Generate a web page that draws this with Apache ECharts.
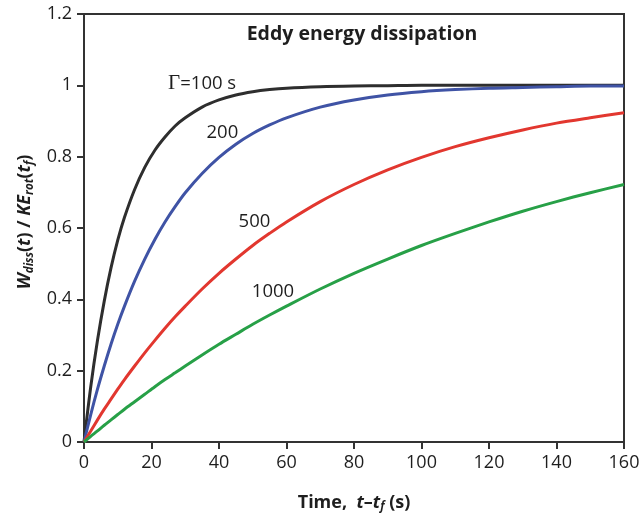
<!DOCTYPE html>
<html>
<head>
<meta charset="utf-8">
<script src="https://cdn.jsdelivr.net/npm/echarts@6/dist/echarts.min.js"></script>
<style>
  html, body { margin: 0; padding: 0; background: #fff; }
  #chart { width: 643px; height: 522px; }
</style>
</head>
<body>
<div id="chart"></div>
<script>
// time axis (s)
const TIME = [0, 2, 4, 6, 8, 10, 12, 15, 18, 21, 24, 27, 30, 35, 40, 45, 50, 55, 60,
  70, 80, 90, 100, 110, 120, 130, 140, 150, 160];

const G100 = [0, 0.155, 0.285, 0.395, 0.488, 0.566, 0.63, 0.708, 0.77, 0.818, 0.855, 0.886, 0.909,
  0.939, 0.959, 0.973, 0.982, 0.988, 0.992, 0.996, 0.998, 0.999, 1, 1, 1, 1, 1, 1, 1];
const G200 = [0, 0.077, 0.148, 0.213, 0.274, 0.33, 0.381, 0.451, 0.513, 0.568, 0.617, 0.66, 0.699,
  0.753, 0.798, 0.835, 0.865, 0.889, 0.909, 0.939, 0.959, 0.973, 0.982, 0.988, 0.992, 0.994, 0.996, 0.998, 0.998];
const G500 = [0, 0.031, 0.062, 0.092, 0.12, 0.148, 0.175, 0.213, 0.25, 0.285, 0.319, 0.351, 0.381,
  0.429, 0.473, 0.513, 0.551, 0.585, 0.617, 0.674, 0.722, 0.763, 0.798, 0.828, 0.853, 0.875, 0.894, 0.909, 0.923];
const G1000 = [0, 0.016, 0.031, 0.047, 0.062, 0.077, 0.092, 0.113, 0.134, 0.155, 0.175, 0.194, 0.213,
  0.244, 0.274, 0.302, 0.33, 0.356, 0.381, 0.429, 0.473, 0.513, 0.551, 0.585, 0.617, 0.647, 0.674, 0.699, 0.722];

const CURVES = [
  { name: "100", values: G100, color: "#2e2e2e" },
  { name: "200", values: G200, color: "#3f53a5" },
  { name: "500", values: G500, color: "#e2372f" },
  { name: "1000", values: G1000, color: "#27a047" },
];

// curve labels placed in data coordinates [t, value, text]
const LABELS = [
  [35, 1.004, "{g|Γ}=100 s"],
  [41, 0.868, "200"],
  [50.5, 0.617, "500"],
  [56, 0.42, "1000"],
];
const TITLE = "Eddy energy dissipation";

const FONT = "Open Sans";
const INK = "#1e1e1e";

const chart = echarts.init(document.getElementById("chart"));

const series = CURVES.map((c) => ({
  name: c.name,
  type: "line",
  data: TIME.map((t, i) => [t, c.values[i]]),
  smooth: 0.3,
  showSymbol: false,
  lineStyle: { color: c.color, width: 3 },
  z: 3,
}));

series.push({
  type: "scatter",
  data: LABELS,
  symbolSize: 0,
  itemStyle: { color: INK, opacity: 1 },
  silent: true,
  label: {
    show: true,
    position: [0, 0],
    align: "center",
    verticalAlign: "middle",
    formatter: (p) => p.data[2],
    fontFamily: FONT,
    fontSize: 18.5,
    color: INK,
    opacity: 1,
    textBorderWidth: 0,
    rich: {
      g: { fontFamily: "Liberation Serif", fontSize: 21, color: INK, textBorderWidth: 0 },
    },
  },
  z: 5,
});

const axisNameRich = {
  b: { fontFamily: FONT, fontWeight: "bold", fontSize: 18, color: INK },
  bi: { fontFamily: FONT, fontWeight: "bold", fontStyle: "italic", fontSize: 18, color: INK },
  sub: { fontFamily: FONT, fontWeight: "bold", fontStyle: "italic", fontSize: 11.5, color: INK, verticalAlign: "bottom", padding: [9, 0, 0, 0] },
};

chart.setOption({
  animation: false,
  backgroundColor: "#fff",
  title: {
    text: TITLE,
    left: 357,
    top: 19,
    textAlign: "center",
    textStyle: { fontFamily: FONT, fontWeight: "bold", fontSize: 19.5, color: INK },
  },
  grid: {
    left: 84, right: 19, top: 14, bottom: 80,
    show: true, borderColor: "#333", borderWidth: 2,
  },
  xAxis: {
    type: "value",
    min: 0, max: 160, interval: 20,
    splitLine: { show: false },
    axisLine: { lineStyle: { color: "#333", width: 2 } },
    axisTick: { length: 7, lineStyle: { color: "#333", width: 2 } },
    axisLabel: { margin: 12, fontFamily: FONT, fontSize: 18, color: INK },
    name: "{b|Time,  }{bi|t}{b|–}{bi|t}{sub|f}{b| (s)}",
    nameLocation: "middle",
    nameGap: 50,
    nameTextStyle: { rich: axisNameRich },
  },
  yAxis: {
    type: "value",
    min: 0, max: 1.2, interval: 0.2,
    splitLine: { show: false },
    axisLine: { lineStyle: { color: "#333", width: 2 } },
    axisTick: { length: 7, lineStyle: { color: "#333", width: 2 } },
    axisLabel: {
      margin: 12, fontFamily: FONT, fontSize: 18, color: INK,
      formatter: (v) => String(Math.round(v * 10) / 10),
    },
    name: "{bi|W}{sub|diss}{b|(}{bi|t}{b|) / }{bi|KE}{sub|rot}{b|(}{bi|t}{sub|f}{b|)}",
    nameLocation: "middle",
    nameGap: 38,
    nameRotate: 90,
    nameTextStyle: { rich: axisNameRich, padding: [0, 0, 0, 12] },
  },
  series,
});
</script>
</body>
</html>
